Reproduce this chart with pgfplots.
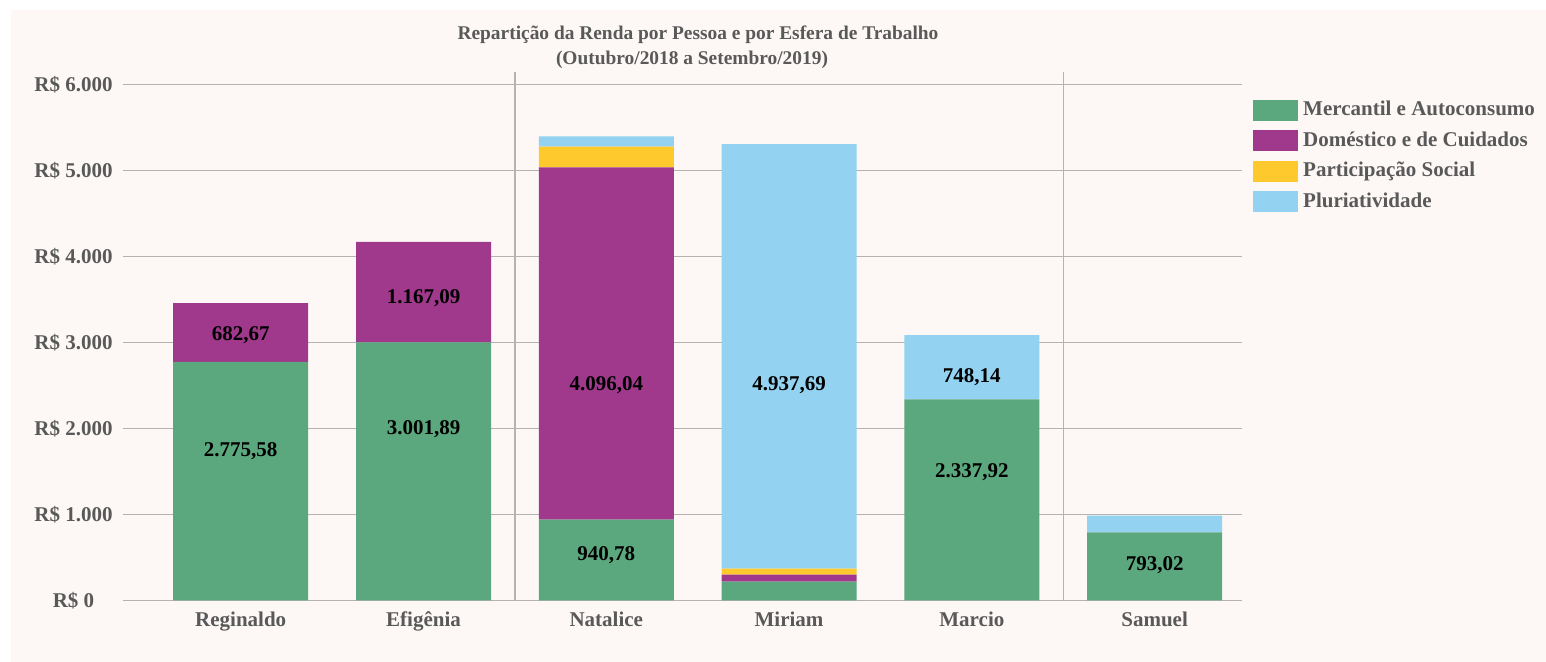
\documentclass[border=0pt]{standalone}
\usepackage{pgfplots}
\pgfplotsset{compat=1.18}
\usepackage{pgfplotstable}
\usepackage{fontspec}
\setmainfont{Liberation Serif}

\definecolor{bgcream}{HTML}{FDF8F6}
\definecolor{mercantil}{HTML}{5BA77E}
\definecolor{domestico}{HTML}{A0398B}
\definecolor{participacao}{HTML}{FEC92C}
\definecolor{pluri}{HTML}{93D3F1}
\definecolor{txtgray}{HTML}{595959}
\definecolor{gridgray}{HTML}{B5B2AF}

% x: 0 Reginaldo, 1 Efigenia, 2 Natalice, 3 Miriam, 4 Marcio, 5 Samuel
\pgfplotstableread{
x mercantil domestico participacao pluri
0 2775.58 682.67  0   0
1 3001.89 1167.09 0   0
2 940.78  4096.04 240 120
3 220     80      70  4937.69
4 2337.92 0       0   748.14
5 793.02  0       0   195
}\renda

% where the value labels sit (y in R$)
\pgfplotstableread{
x y lbl
0 1761 2.775,58
0 3110 682,67
1 2017 3.001,89
1 3541 1.167,09
2 552  940,78
2 2529 4.096,04
3 2529 4.937,69
4 1517 2.337,92
4 2622 748,14
5 436  793,02
}\rotulos

\newcommand{\labfont}{\fontsize{10.5}{12.6}\selectfont\bfseries}

\pgfplotsset{
  base/.style={
    at={(61.5pt,30.75pt)}, anchor=south west,
    scale only axis, width=559.5pt, height=264.25pt,
    xmin=-0.644, xmax=5.478, ymin=0, ymax=6145,
  },
}

\begin{document}
\begin{tikzpicture}
% 1 px of the reference = 0.5pt
\path[use as bounding box, fill=white] (0,0) rectangle (773pt,331pt);
\fill[bgcream] (5.5pt,0) rectangle (773pt,326pt);

\node[anchor=base, text=txtgray, font=\fontsize{9.7}{11.6}\selectfont\bfseries]
  at (349pt,311.4pt) {Repartição da Renda por Pessoa e por Esfera de Trabalho};
\node[anchor=base, text=txtgray, font=\fontsize{9.7}{11.6}\selectfont\bfseries]
  at (346pt,298.5pt) {(Outubro/2018 a Setembro/2019)};

\begin{axis}[
  base,
  ybar stacked, bar width=67.5pt,
  xtick={0,...,5},
  xticklabels={Reginaldo,Efigênia,Natalice,Miriam,Marcio,Samuel},
  ytick={0,1000,...,6000},
  yticklabel={R\$ \pgfmathprintnumber{\tick}},
  /pgf/number format/fixed,
  /pgf/number format/1000 sep={.},
  /pgf/number format/assume math mode=true,
  axis line style={draw=none},
  major tick length=0pt,
  ymajorgrids,
  major grid style={gridgray, line width=0.75pt},
  extra x ticks={1.5,4.5},
  extra x tick labels={},
  extra x tick style={grid=major, major grid style={gridgray, line width=0.75pt}},
  xticklabel style={font=\labfont, text=txtgray, anchor=base, yshift=-13.25pt},
  yticklabel style={font=\labfont, text=txtgray, anchor=center, xshift=-24.75pt},
  legend style={at={(1.00983,0.9575)}, anchor=north west, draw=none, fill=none,
    inner sep=0pt, row sep=0pt,
    nodes={font=\labfont, text=txtgray, inner sep=2.4pt,
      text height=8pt, text depth=2.5pt},
    cells={anchor=west}},
  legend image code/.code={\fill[#1] (0pt,-5.25pt) rectangle (22.5pt,5.25pt);},
]
\addplot[fill=mercantil, draw=none] table[x=x, y=mercantil] {\renda};
\addplot[fill=domestico, draw=none] table[x=x, y=domestico] {\renda};
\addplot[fill=participacao, draw=none] table[x=x, y=participacao] {\renda};
\addplot[fill=pluri, draw=none] table[x=x, y=pluri] {\renda};
\legend{Mercantil e Autoconsumo, Doméstico e de Cuidados, Participação Social, Pluriatividade}
\end{axis}

\begin{axis}[base, hide axis]
\addplot[only marks, mark=none, point meta=explicit symbolic,
  nodes near coords={\pgfplotspointmeta},
  every node near coord/.append style={font=\labfont, text=black,
    anchor=base, yshift=-3.6pt}]
  table[x=x, y=y, meta=lbl] {\rotulos};
\end{axis}
\end{tikzpicture}
\end{document}
